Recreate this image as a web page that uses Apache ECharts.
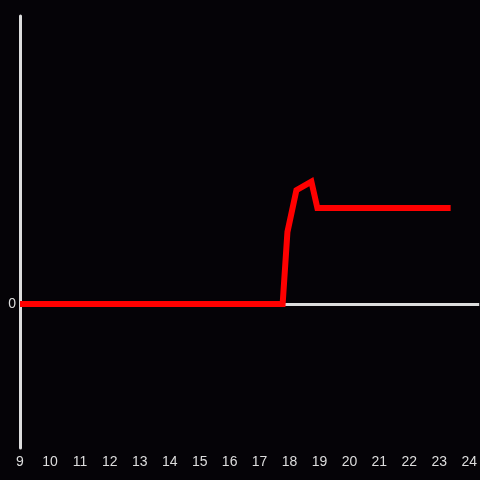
<!DOCTYPE html>
<html>
<head>
<meta charset="utf-8">
<script src="https://cdn.jsdelivr.net/npm/echarts@6/dist/echarts.min.js"></script>
<style>
  html, body { margin: 0; padding: 0; background: #050307; }
  #main { width: 480px; height: 480px; }
</style>
</head>
<body>
<div id="main"></div>
<script>
// hour of day (x) and value (y)
var hours  = [9, 17.77, 17.93, 18.23, 18.73, 18.93, 23.38];
var values = [0, 0, 25, 39.5, 42.5, 33.3, 33.3];

var chart = echarts.init(document.getElementById('main'));

var points = hours.map(function(h, i) { return [h, values[i]]; });

var option = {
  backgroundColor: '#050307',
  animation: false,
  grid: { left: 20, right: 0, top: 16, bottom: 32, containLabel: false },
  xAxis: {
    type: 'value',
    min: 9,
    max: 24 + 1/3,
    interval: 1,
    axisLine: { show: false, onZero: false },
    axisTick: { show: false },
    splitLine: { show: false },
    axisLabel: {
      color: '#dddddd',
      fontSize: 14,
      margin: 7,
      showMaxLabel: false,
      formatter: function(v) { return Math.abs(v - Math.round(v)) < 1e-6 ? String(Math.round(v)) : ''; }
    }
  },
  yAxis: {
    type: 'value',
    min: -50,
    max: 100,
    interval: 50,
    axisLine: { show: true, onZero: false, lineStyle: { color: '#dddddd', width: 3 } },
    axisTick: { show: false },
    splitLine: { show: false },
    axisLabel: {
      color: '#dddddd',
      fontSize: 14,
      margin: 4,
      formatter: function(v) { return v === 0 ? '0' : ''; }
    }
  },
  series: [{
    type: 'line',
    data: points,
    symbol: 'none',
    lineStyle: { color: '#ff0000', width: 6, cap: 'butt', join: 'miter' },
    z: 3,
    markLine: {
      silent: true,
      symbol: 'none',
      label: { show: false },
      lineStyle: { color: '#dddddd', width: 3, type: 'solid' },
      data: [{ yAxis: 0 }],
      z: 2
    }
  }]
};

chart.setOption(option);
</script>
</body>
</html>
